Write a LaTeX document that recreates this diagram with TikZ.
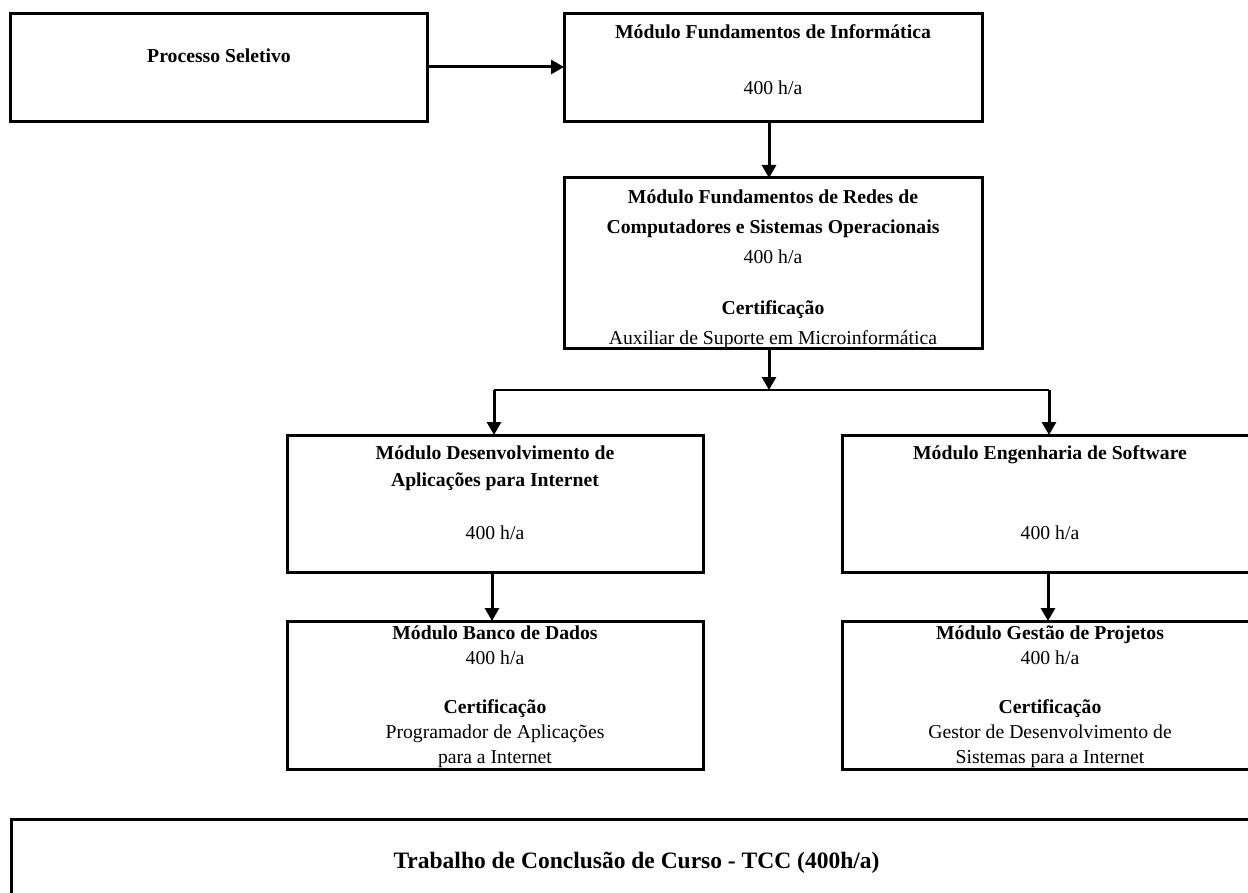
\documentclass[tikz,border=0pt]{standalone}
\usepackage{fontspec}
\setmainfont{Liberation Serif}
\usetikzlibrary{arrows.meta}
\begin{document}
\begin{tikzpicture}[x=1pt,y=-1pt,
  box/.style={draw, line width=3pt, inner sep=0pt, outer sep=0pt},
  tx/.style={inner sep=0pt, anchor=base, font=\fontsize{19.7}{24}\selectfont},
  txb/.style={tx, font=\fontsize{19.7}{24}\selectfont\bfseries},
  tcc/.style={inner sep=0pt, anchor=base, font=\fontsize{23.5}{28}\selectfont\bfseries},
  arr/.style={line width=3pt, -{Triangle[width=14pt,length=13pt]}},
  thinline/.style={line width=1.6pt}]
\useasboundingbox (0,0) rectangle (1248,893);
\clip (0,0) rectangle (1248,893);
\fill[white] (0,0) rectangle (1248,893);
% boxes
\node[box, minimum width=417pt, minimum height=108pt] (A) at (218.5,68) {};
\node[box, minimum width=418pt, minimum height=108pt] (B) at (773,68) {};
\node[box, minimum width=418pt, minimum height=171pt] (C) at (773,263.5) {};
\node[box, minimum width=416pt, minimum height=137pt] (D) at (495,503.5) {};
\node[box, minimum width=416pt, minimum height=137pt] (E) at (1050,503.5) {};
\node[box, minimum width=416pt, minimum height=148pt] (F) at (495,695) {};
\node[box, minimum width=416pt, minimum height=148pt] (G) at (1050,695) {};
\node[box, minimum width=1251pt, minimum height=106pt] (T) at (636.5,872) {};
% texts
\node[txb] (a1) at (219,62.5) {Processo Seletivo};
\node[txb] (b1) at (773,38.5) {Módulo Fundamentos de Informática};
\node[tx]  (b2) at (773,94.5) {400 h/a};
\node[txb] (c1) at (773,203.5) {Módulo Fundamentos de Redes de};
\node[txb] (c2) at (773,233.5) {Computadores e Sistemas Operacionais};
\node[tx]  (c3) at (773,263.5) {400 h/a};
\node[txb] (c4) at (773,314.5) {Certificação};
\node[tx]  (c5) at (773,344.5) {Auxiliar de Suporte em Microinformática};
\node[txb] (d1) at (495,459.5) {Módulo Desenvolvimento de};
\node[txb] (d2) at (495,486.5) {Aplicações para Internet};
\node[tx]  (d3) at (495,539.5) {400 h/a};
\node[txb] (e1) at (1050,459.5) {Módulo Engenharia de Software};
\node[tx]  (e2) at (1050,539.5) {400 h/a};
\node[txb] (f1) at (495,639.5) {Módulo Banco de Dados};
\node[tx]  (f2) at (495,664.5) {400 h/a};
\node[txb] (f3) at (495,713.5) {Certificação};
\node[tx]  (f4) at (495,738.5) {Programador de Aplicações};
\node[tx]  (f5) at (495,763.5) {para a Internet};
\node[txb] (g1) at (1050,639.5) {Módulo Gestão de Projetos};
\node[tx]  (g2) at (1050,664.5) {400 h/a};
\node[txb] (g3) at (1050,713.5) {Certificação};
\node[tx]  (g4) at (1050,738.5) {Gestor de Desenvolvimento de};
\node[tx]  (g5) at (1050,763.5) {Sistemas para a Internet};
\node[tcc] (t1) at (636.5,868) {Trabalho de Conclusão de Curso - TCC (400h/a)};
% connectors
\coordinate (J) at (769,390);
\coordinate (JL) at (494,390);
\coordinate (JR) at (1049,390);
\draw[arr] ([yshift=1pt]A.east) -- ([yshift=1pt]B.west);
\draw[arr] ([xshift=-4pt]B.south) -- ([xshift=-4pt]C.north);
\draw[arr] ([xshift=-4pt]C.south) -- (J);
\draw[thinline] (JL) -- (JR);
\draw[arr] (JL) -- (JL |- D.north);
\draw[arr] (JR) -- (JR |- E.north);
\draw[arr] ([xshift=-3pt]D.south) -- ([xshift=-3pt]F.north);
\draw[arr] ([xshift=-2pt]E.south) -- ([xshift=-2pt]G.north);
\end{tikzpicture}
\end{document}
